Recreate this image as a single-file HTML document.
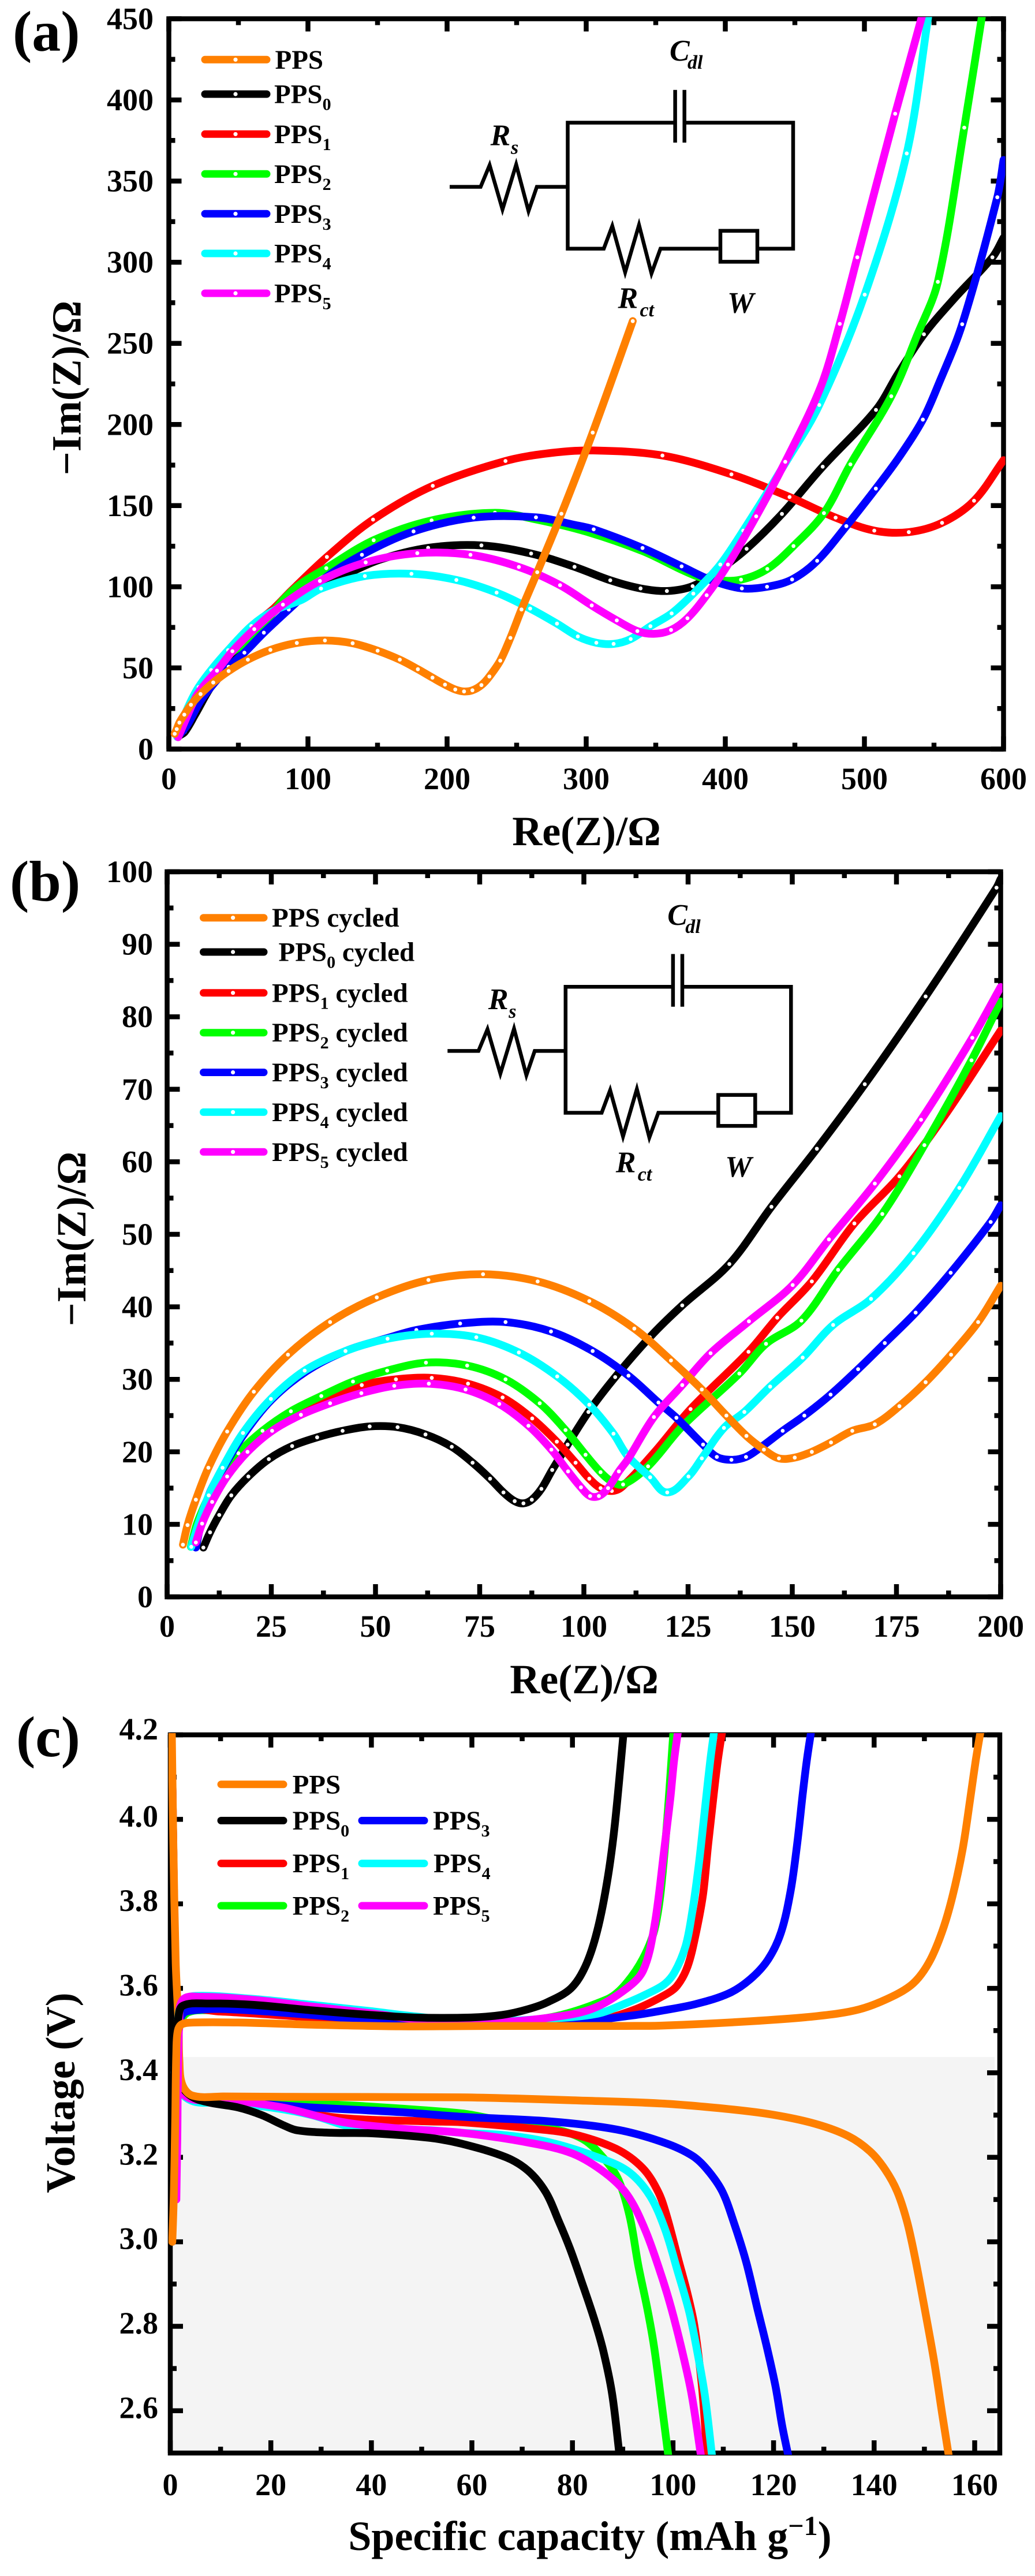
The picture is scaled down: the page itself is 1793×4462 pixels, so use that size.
<!DOCTYPE html>
<html lang="en">
<head>
<meta charset="utf-8">
<title>EIS and charge-discharge curves of PPS samples</title>
<style>
html,body{margin:0;padding:0;background:#fff;}
svg{display:block;}
text{font-family:"Liberation Serif","DejaVu Serif",serif;font-weight:bold;fill:#000;}
.it{font-style:italic;}
</style>
</head>
<body>
<svg id="figure" xmlns="http://www.w3.org/2000/svg" width="1793" height="4462" viewBox="0 0 1793 4462">
  <rect x="0" y="0" width="1793" height="4462" fill="#fff"/>
  <rect x="295" y="3563" width="1428" height="686" fill="#f4f4f4"/>

  <defs>
    <g id="circuit">
      <path fill="none" stroke="#000" stroke-width="6.5" stroke-linejoin="miter" d="M779 323.6H832.6L848.2 286L870.5 362.9L894.2 285L915.6 365.7L930 323.6H983.5"/>
      <path fill="none" stroke="#000" stroke-width="6.5" d="M1169.6 212.5H983.5V430.7H1046L1060.7 391.4L1083 471.8L1107 389.6L1128.6 473.6L1144.2 430.7H1244.6M1315 430.7H1374V212.5H1185.7"/>
      <path fill="none" stroke="#000" stroke-width="6.5" d="M1169.6 155.7V247M1185.7 155.7V247"/>
      <rect x="1248" y="399.8" width="64" height="53.6" fill="none" stroke="#000" stroke-width="6.5"/>
      <text class="it" x="1160" y="105" font-size="52">C</text>
      <text class="it" x="1191" y="119" font-size="34">dl</text>
      <text class="it" x="849.6" y="251.4" font-size="52">R</text>
      <text class="it" x="885" y="266.4" font-size="34">s</text>
      <text class="it" x="1070.5" y="533.6" font-size="52">R</text>
      <text class="it" x="1108.5" y="548" font-size="34">ct</text>
      <text class="it" x="1260" y="541.4" font-size="52">W</text>
    </g>
  </defs>

  <use href="#circuit"/>
  <use href="#circuit" transform="translate(-3.7 1496.8)"/>

  <text x="22" y="88" font-size="100">(a)</text>
  <text x="17" y="1560" font-size="100">(b)</text>
  <text x="28" y="3042" font-size="100">(c)</text>

  <text x="1016" y="1464" font-size="72" text-anchor="middle">Re(Z)/Ω</text>
  <text x="1012" y="2933" font-size="72" text-anchor="middle">Re(Z)/Ω</text>
  <text x="1022" y="4417" font-size="72" text-anchor="middle">Specific capacity (mAh g<tspan font-size="48" dy="-26">−1</tspan><tspan dy="26">)</tspan></text>

  <text transform="translate(139.5 672) rotate(-90)" font-size="72" text-anchor="middle">−Im(Z)/Ω</text>
  <text transform="translate(148 2146) rotate(-90)" font-size="72" text-anchor="middle">−Im(Z)/Ω</text>
  <text transform="translate(129 3625) rotate(-90)" font-size="72" text-anchor="middle">Voltage (V)</text>
</svg>

<script>
// ---------- Panel (a) : fresh cells, Nyquist data [Re, -Im] (third entry 0 = no marker) ----------
const aPPS = [[4.2,9.4],[5.7,12.3],[7.6,16.3],[11.1,21.2],[15.9,27.3],[22.8,33.9],[31.9,41],[43,48.1],[56.8,55.1],[73,61.1],[92,65.4],[112.2,66.9],[132.1,65.2],[150.1,60.6],[166,55.1],[179,49.2],[189.5,44],[198.5,39.7],[205.9,36.7],[212.2,35.5],[218.2,36.2],[224.7,39.4],[230.4,44.7],[238.2,54.5],[245.5,68.5],[253.5,86],[264.8,109],[282.2,145],[304.7,195],[333.5,263.7]];
const aPPS0 = [[7.6,8.3,0],[11.5,10.6],[19,21.4],[30,38,0],[43,52.5,0],[60,70,0],[80,88,0],[100,99,0],[120.5,105,0],[151,116.5,0],[186.4,124],[224.7,125.5],[260.4,120.5],[291.6,112.3],[317.3,104],[339.1,99],[358,97.4],[376.5,100.4],[395,110,0],[415.3,123.4],[440.7,144.9],[470,174],[508.3,209],[524,231,0],[542.8,255.6],[565,278,0],[592,303],[600,315,0]];
const aPPS1 = [[6.5,7.5,0],[12,20,0],[20,33,0],[30,46,0],[45,63,0],[60,76,0],[74.6,86,0],[88.5,98],[113.6,118.4],[146.8,141.4],[189.7,162.2],[242,177.5],[275,182.5,0],[305,184,0],[354.8,180.9],[404.4,169.3],[446.2,155.3],[479.3,142.6],[507.1,134.6],[531.9,133.7],[555.8,139.4],[578.8,153],[600,178,0]];
const aPPS2 = [[6.5,7.5,0],[14,25,0],[25,41,0],[40,56,0],[55.5,66,0],[70.7,79.5,0],[82.2,92,0],[95,102,0],[113.2,111.5],[147.2,128.7],[188.9,140.9],[234.4,145.6],[264,141.5,0],[300,134,0],[340.5,122,0],[368.6,110.5,0],[381.2,106,0],[393,104,0],[411.3,104.4],[430.2,111],[449,125.1],[470.9,145.4],[489.9,175.4],[519.3,217.4],[537.9,255,0],[552.8,287.9],[571.8,382.9],[586,460,0]];
const aPPS3 = [[6.7,7.7,0],[13.4,15,0],[23,30,0],[33,41,0],[43,50.7],[54.3,59.4],[68.3,71.7],[86.2,86],[110,104,0],[138.8,119.7],[175.9,134.1],[219.1,142.6],[263.9,142.8],[292.5,138,0],[305.4,135.4],[340.5,123.9],[368.6,112.6],[390,104,0],[411.9,99],[430,100],[448,104.5],[466,116],[487,137.4],[508.2,160.5],[525,180,0],[542,203],[552.9,224,0],[570.3,261.8],[595.5,340],[600,363,0]];
const aPPS4 = [[6,7.5,0],[10,18,0],[15.3,28.6],[21.4,38.2],[30.4,48.7],[42.6,60.9],[59.3,75.8],[74.6,85,0],[95.6,92,0],[109.4,98.9],[140.9,106.6],[174.4,108],[206.7,104.2],[235.6,96.4],[259.7,86.6],[279,77.3],[294,69.4],[307.3,65.5],[319.7,64.8],[332,67.8],[346.2,75.7],[361.4,83.6],[377,95.8],[396.4,113.7],[412.9,134.6],[443,176,0],[467.5,212],[500.2,280],[530.4,367],[546.5,455,0]];
const aPPS5 = [[6.7,7.3,0],[12,18,0],[20,33,0],[27,41,0],[34.6,48.3],[45.7,60.3],[61.4,73.9],[82,89],[108.6,103.6],[141.5,115],[178.6,120.7],[216.8,119.7],[251.6,112.2],[281.2,101],[304,88.5],[322,79.3],[336.8,72.7],[348.6,71,0],[361,73.4],[372.8,80.6],[386.6,94.8],[401.9,113.7],[422.2,143.4],[443.1,177],[468.5,223,0],[482.3,262],[494.9,303],[522.1,391.5],[542.5,455,0]];
const aXTicks = [0,100,200,300,400,500,600];
const aXMinorTicks = [50,150,250,350,450,550];
const aYTicks = [0,50,100,150,200,250,300,350,400,450];
const aYMinorTicks = [25,75,125,175,225,275,325,375,425];

// ---------- Panel (b) : cycled cells ----------
const bPPS = [[3.8,7.2],[4.9,9.9],[6.9,13.4],[9.9,17.8],[14.4,22.8],[20.8,28.3],[29,33.4],[39.1,37.9],[50.3,41.3],[62.7,43.7],[75.8,44.5],[88.9,43.5],[101.3,40.8],[112.1,37],[120.9,32.6],[128.3,28.6],[134.2,25],[139,22.2],[143.2,20.3],[146.8,19.1],[150.6,19.2],[154.7,20],[159.3,21.3],[164.4,22.9],[169.8,23.8],[175.7,26.3],[182,29.6],[188.1,33.4],[194.6,37.9],[200,42.9,0]];
const bPPS0 = [[8.7,6.8],[10.3,8.9],[12.5,11.3],[15.4,14],[19.5,16.6],[24.4,19],[30,20.8],[36,22],[42.1,22.9],[48.6,23.5],[55.3,23.4],[62,22.4],[68.3,20.7],[73.3,18.5],[77.5,16.3],[80.7,14.4],[83.4,13.2],[85.5,12.9],[87.5,13.4],[89.8,14.9],[92.4,17.5],[96.1,21],[101.1,25.5],[107.5,30.3],[115.8,35.8],[123.6,40.2],[134.9,45.9],[145,53.8],[155.9,61.8],[167.4,70.7],[182,82.8],[199,97.8],[200,99,0]];
const bPPS1 = [[6.7,7,0],[8,10.2,0],[10.5,13.5,0],[14,17,0],[19,20,0],[25,23,0],[32,25.7,0],[39,27.5,0],[46.7,29.2],[54.9,30],[63.5,30.2],[72.2,29.4],[80.5,27.5],[87.6,24.6],[93.5,21.4],[98,18.5],[101.3,16.3],[104,15],[106.7,14.6],[109.2,15.2],[117,20,0],[125.6,25.9],[139.5,33.8],[146.4,38.5],[154.7,43.5],[164.9,51.5],[175.7,58],[186.5,66.3,0],[200,78.1,0]];
const bPPS2 = [[5.7,6.9],[7,9.8,0],[8.5,12,0],[10,13.8,0],[12.5,16,0],[17.1,19.8],[22.9,22.9],[29.7,25.6],[37,27.7],[44.6,29.7],[52.8,31.2],[62.1,32.3],[72,31.9],[81.2,30],[89.4,26.7],[95.6,23],[100.4,19.6],[104,17.2],[106.7,15.9],[109.4,15.5],[115.4,18],[123.6,23.5],[137.3,30.8],[143.7,34.9],[152.2,38.1],[161,45.1],[171.6,52.8],[181.7,62.3],[193,74],[200,82.1,0]];
const bPPS3 = [[6.9,6.8,0],[8.3,10.5,0],[10.2,14.3,0],[13.5,17.8,0],[18.4,22.4,0],[25.1,27.2,0],[33.4,31.1,0],[42.8,33.9,0],[52.9,35.7,0],[59.8,36.8],[70.3,37.7],[81.2,37.9],[92.1,36.6],[102.1,33.9],[110.7,30.5],[117.9,26.8],[122.2,24.7],[128.6,21],[131.9,19.3],[135.4,18.9],[138.9,19.3],[142.4,20.6],[147.7,22.9],[152.9,25],[159.2,27.9],[165.8,31.4],[172.2,35],[179.6,39.2],[188,44.7],[197.6,51.7],[200,54,0]];
const bPPS4 = [[5.8,6.9],[7.5,10,0],[10,14],[13.3,17.8],[18.2,22.6],[24.9,27.3],[33,31.2],[42.8,33.9],[52.9,35.6],[63.5,36.3],[74.2,35.8],[84.4,33.7],[93.6,30.4],[101.3,26.5],[107.1,22.5],[110.4,19.5],[115.9,16.5],[120,14.4],[125.1,16.6],[128.3,19.1],[133.6,23.3],[138.5,25.5],[144.7,29],[152.5,33],[159.8,37.5],[168.9,41.1],[179.1,47.4],[190.1,56.4],[200,66.3,0]];
const bPPS5 = [[6.9,7.5],[8.4,10.1],[10.8,13.1],[14.4,16.6],[19.3,20],[25.2,22.9],[32.1,25.1],[39.1,26.7],[46.6,28.1],[54.5,29.1],[62.8,29.4],[71.6,28.6],[79.7,26.6],[86.7,23.6],[92.2,20.3],[96.2,17.3],[99.3,15.1],[101.5,13.9],[103.6,13.9],[105.8,15],[108.4,17.3],[110.7,19.1,0],[116.8,24.8],[123.6,29.2],[130.4,33.6],[139.6,38],[150.1,43],[158.8,49.3],[169.8,57],[180.9,65.8],[193.2,77.1],[200,84.1,0]];
const bXTicks = [0,25,50,75,100,125,150,175,200];
const bXMinorTicks = [12.5,37.5,62.5,87.5,112.5,137.5,162.5,187.5];
const bYTicks = [0,10,20,30,40,50,60,70,80,90,100];
const bYMinorTicks = [5,15,25,35,45,55,65,75,85,95];

// ---------- Panel (c) : charge / discharge curves [capacity, voltage] ----------
const cChargePPS = [[0.4,3],[0.7,3.11],[1,3.3],[1.2,3.45],[1.5,3.5],[2.3,3.515],[4.7,3.519],[13.5,3.519],[28.1,3.514],[45.7,3.51],[63.3,3.511],[90.7,3.511],[98.2,3.512],[115.4,3.522],[128.4,3.534],[137,3.55],[143.5,3.58],[147.8,3.612],[150.9,3.661],[153.5,3.733],[155.6,3.818],[157.6,3.929],[159.1,4.047],[160.2,4.1385],[161.2,4.21]];
const cChargePPS0 = [[0.5,3.3],[1,3.45],[1.6,3.53],[2.5,3.559],[7.6,3.564],[16.4,3.561],[28.1,3.548],[39.9,3.537],[48.6,3.531],[59.8,3.531],[66,3.537],[71,3.55],[75,3.567],[79.7,3.6],[82.6,3.653],[84.9,3.735],[86.9,3.853],[88.4,3.985],[90.2,4.21]];
const cChargePPS1 = [[1,3.4],[1.7,3.5],[3,3.545],[10,3.545],[30,3.53],[50,3.52],[70,3.515],[85,3.525],[92,3.548],[98.2,3.583],[100.8,3.606],[102.9,3.652],[104.6,3.733],[106,3.825],[107,3.942],[108.1,4.06],[108.9,4.1385],[109.8,4.21]];
const cChargePPS2 = [[1,3.4],[1.7,3.5],[2.7,3.535],[4.7,3.547],[9.4,3.547],[16.4,3.544],[28.1,3.532],[39.9,3.526],[45.7,3.521],[60,3.519],[75,3.53],[86.7,3.573],[90.2,3.605],[94,3.67],[96.5,3.748],[98.2,3.906],[100.1,4.21]];
const cChargePPS3 = [[0.9,3.4],[1.6,3.5],[2.5,3.539],[4.7,3.548],[10.6,3.551],[25,3.54],[40,3.525],[60,3.515],[80,3.52],[92,3.536],[98.2,3.548],[104.6,3.563],[111.1,3.588],[115.4,3.622],[118.9,3.668],[121.5,3.733],[123.4,3.831],[124.7,3.942],[125.8,4.06],[126.6,4.1385],[127.5,4.21]];
const cChargePPS4 = [[0.8,3.4],[1.5,3.52],[2.5,3.57],[5,3.582],[16.4,3.575],[28.1,3.561],[39.9,3.546],[47.5,3.535],[60,3.522],[75,3.528],[85,3.54],[90.7,3.565],[94.5,3.585],[98.2,3.609],[100.3,3.638],[102.5,3.7],[103.8,3.779],[105.1,3.89],[106.2,4.008],[107.4,4.1385],[108.2,4.21]];
const cChargePPS5 = [[1.2,3.1],[1.4,3.25],[1.5,3.37],[1.8,3.52],[2.5,3.573],[5.9,3.58],[16.4,3.573],[28.1,3.557],[39.9,3.541],[51.6,3.523],[63.3,3.519],[75,3.53],[83.8,3.551],[90.8,3.6],[94.1,3.643],[96.3,3.748],[98.2,3.923],[99.5,4.054],[100.2,4.1385],[101,4.21]];
const cDischargePPS = [[0.3,4.21],[0.6,3.95],[1.08,3.66],[1.66,3.51],[1.8,3.43],[2.36,3.373],[4.4,3.346],[10.6,3.344],[28.1,3.343],[57.4,3.342],[69.1,3.339],[80,3.335],[98.2,3.327],[111.1,3.314],[119.8,3.301],[128.4,3.279],[134.9,3.25],[139.2,3.214],[142.2,3.171],[144.6,3.119],[146.5,3.05],[148,2.971],[149.9,2.852],[151.9,2.72],[153.6,2.588],[154.9,2.49]];
const cDischargePPS0 = [[0.2,4.21],[0.4,3.9],[0.7,3.65],[1.1,3.45],[1.8,3.38],[4.1,3.345],[7.6,3.33],[13.5,3.318],[18.2,3.3],[22.3,3.277],[25.2,3.264],[32,3.258],[39.9,3.257],[51.6,3.246],[58,3.232],[66.8,3.2],[71.2,3.168],[74.7,3.117],[77.3,3.048],[79.5,2.984],[81.7,2.91],[84.3,2.818],[86.1,2.743],[87.9,2.639],[89.4,2.49]];
const cDischargePPS1 = [[0.4,4.1],[1,3.6],[1.6,3.42],[3,3.345],[10,3.335],[22,3.315],[34,3.293],[51.6,3.285],[58,3.283],[71.2,3.269],[80,3.255],[88.7,3.22],[94,3.174],[97.1,3.117],[98.8,3.059],[101,2.961],[102.8,2.881],[104.1,2.812],[105,2.737],[105.9,2.639],[106.8,2.49]];
const cDischargePPS2 = [[0.4,4.1],[1,3.6],[1.6,3.42],[3,3.345],[10,3.34],[22.3,3.331],[39.9,3.32],[58,3.304],[63.7,3.292],[75.6,3.269],[82.1,3.243],[86.5,3.194],[89.2,3.145],[91.4,3.059],[93.1,2.944],[94.9,2.841],[96.2,2.754],[97.5,2.639],[99.1,2.49]];
const cDischargePPS3 = [[0.4,4.1],[1,3.6],[1.6,3.42],[3,3.345],[10,3.335],[20,3.325],[28.1,3.318],[45.7,3.307],[58,3.296],[75.6,3.285],[88.7,3.266],[98.2,3.235],[103.8,3.204],[106.8,3.171],[109.8,3.119],[112.2,3.042],[114.6,2.95],[116.8,2.841],[118.6,2.754],[120.4,2.657],[121.7,2.565],[123,2.49]];
const cDischargePPS4 = [[0.5,3.9],[1,3.55],[2.07,3.359],[4.7,3.332],[10,3.33],[20,3.318],[28.1,3.3],[37,3.27],[51.6,3.264],[58,3.258],[66.8,3.252],[75.6,3.235],[84.3,3.203],[90.9,3.168],[95.3,3.111],[98.4,3.03],[101,2.927],[103.2,2.835],[104.6,2.754],[106.3,2.639],[107.8,2.49]];
const cDischargePPS5 = [[0.4,4.1],[1,3.6],[1.6,3.42],[3,3.345],[10.6,3.337],[22.3,3.318],[34,3.284],[45.7,3.268],[58,3.258],[71.2,3.235],[80,3.209],[86.5,3.163],[90.9,3.111],[94.4,3.03],[97.5,2.927],[99.7,2.841],[101.9,2.737],[103.7,2.639],[105.6,2.49]];
const cXTicks = [0,20,40,60,80,100,120,140,160];
const cXMinorTicks = [10,30,50,70,90,110,130,150];
const cYTickLabels = ['4.2','4.0','3.8','3.6','3.4','3.2','3.0','2.8','2.6'];
const cYMinorTicks = [4.1,3.9,3.7,3.5,3.3,3.1,2.9,2.7];

// ---------- Series metadata ----------
const seriesColors = {PPS:'#ff8000',PPS0:'#000000',PPS1:'#ff0000',PPS2:'#00ff00',PPS3:'#0000ff',PPS4:'#00ffff',PPS5:'#ff00ff'};
const seriesSubs = {PPS:'',PPS0:'0',PPS1:'1',PPS2:'2',PPS3:'3',PPS4:'4',PPS5:'5'};
const drawOrder = ['PPS0','PPS1','PPS2','PPS3','PPS4','PPS5','PPS'];
const drawOrderC = ['PPS2','PPS1','PPS3','PPS4','PPS5','PPS0','PPS'];
const legendKeys = ['PPS','PPS0','PPS1','PPS2','PPS3','PPS4','PPS5'];
const aData = {PPS:aPPS,PPS0:aPPS0,PPS1:aPPS1,PPS2:aPPS2,PPS3:aPPS3,PPS4:aPPS4,PPS5:aPPS5};
const bData = {PPS:bPPS,PPS0:bPPS0,PPS1:bPPS1,PPS2:bPPS2,PPS3:bPPS3,PPS4:bPPS4,PPS5:bPPS5};
const cCharge = {PPS:cChargePPS,PPS0:cChargePPS0,PPS1:cChargePPS1,PPS2:cChargePPS2,PPS3:cChargePPS3,PPS4:cChargePPS4,PPS5:cChargePPS5};
const cDischarge = {PPS:cDischargePPS,PPS0:cDischargePPS0,PPS1:cDischargePPS1,PPS2:cDischargePPS2,PPS3:cDischargePPS3,PPS4:cDischargePPS4,PPS5:cDischargePPS5};

const NS = 'http://www.w3.org/2000/svg';
const svg = document.getElementById('figure');

function mk(tag, attrs, parent) {
  const el = document.createElementNS(NS, tag);
  for (const k in attrs) el.setAttribute(k, attrs[k]);
  (parent || svg).appendChild(el);
  return el;
}

function scale(d0, d1, p0, p1) {
  return v => p0 + (v - d0) * (p1 - p0) / (d1 - d0);
}

function smoothPath(pts) {
  let d = 'M' + pts[0][0].toFixed(1) + ' ' + pts[0][1].toFixed(1);
  const tan = i => {
    const a = pts[Math.max(i - 1, 0)], b = pts[Math.min(i + 1, pts.length - 1)];
    const dx = b[0] - a[0], dy = b[1] - a[1], l = Math.hypot(dx, dy) || 1;
    return [dx / l, dy / l];
  };
  for (let i = 0; i < pts.length - 1; i++) {
    const p = pts[i], q = pts[i + 1], s = Math.hypot(q[0] - p[0], q[1] - p[1]) / 3;
    const t0 = tan(i), t1 = tan(i + 1);
    d += 'C' + (p[0] + t0[0] * s).toFixed(1) + ' ' + (p[1] + t0[1] * s).toFixed(1) + ' ' +
         (q[0] - t1[0] * s).toFixed(1) + ' ' + (q[1] - t1[1] * s).toFixed(1) + ' ' +
         q[0].toFixed(1) + ' ' + q[1].toFixed(1);
  }
  return d;
}

function drawFrame(id, box, X, Y, xMajor, xMinor, yMajor, yMinor) {
  const g = mk('g', {});
  
  
  let d = '';
  const seg = (x1, y1, x2, y2) => { d += 'M' + x1.toFixed(1) + ' ' + y1.toFixed(1) + 'L' + x2.toFixed(1) + ' ' + y2.toFixed(1); };
  const tickX = (list, len) => list.forEach(v => {
    const x = X(v);
    seg(x, box.b, x, box.b - len);
    seg(x, box.t, x, box.t + len);
  });
  const tickY = (list, len) => list.forEach(v => {
    const y = Y(v);
    seg(box.l, y, box.l + len, y);
    seg(box.r, y, box.r - len, y);
  });
  tickX(xMajor, 22);
  tickX(xMinor, 11);
  tickY(yMajor, 22);
  tickY(yMinor, 11);
  const ticks = mk('path', {d: d, stroke: '#000', 'stroke-width': 8.5, fill: 'none'}, g);
  
  
  const frame = mk('rect', {x: box.l, y: box.t, width: box.r - box.l, height: box.b - box.t, fill: 'none', stroke: '#000', 'stroke-width': 8.5}, g);
  
  
}

function clipFor(id, box) {
  const defs = mk('defs', {});
  const cp = mk('clipPath', {id: id + '-clip'}, defs);
  mk('rect', {x: box.l - 3, y: box.t - 3, width: box.r - box.l + 6, height: box.b - box.t + 6}, cp);
}

function drawLabels(id, X, Y, xVals, xLabels, xBase, yVals, yLabels, yRight, yOff, firstOff) {
  xVals.forEach((v, i) => {
    const t = mk('text', {x: X(v), y: xBase, 'font-size': 54, 'text-anchor': 'middle'});
    t.textContent = xLabels[i];
    
    
  });
  yVals.forEach((v, i) => {
    const off = (firstOff !== undefined && i === 0) ? firstOff : yOff;
    const t = mk('text', {x: yRight, y: Y(v) + off, 'font-size': 54, 'text-anchor': 'end'});
    t.textContent = yLabels[i];
    
    
  });
}

function drawSeries(id, part, key, pts, X, Y, dots) {
  const px = pts.map(p => [X(p[0]), Y(p[1])]);
  const g = mk('g', {'clip-path': 'url(#' + id + '-clip)'});
  
  
  const line = mk('path', {d: smoothPath(px), fill: 'none', stroke: seriesColors[key], 'stroke-width': 13.5, 'stroke-linecap': 'round', 'stroke-linejoin': 'round'}, g);
  
  
  if (dots) {
    pts.forEach((p, i) => {
      if (p[2] === 0) return;
      const c = mk('circle', {cx: px[i][0].toFixed(1), cy: px[i][1].toFixed(1), r: 3.4, fill: '#fff'}, g);
      
      
    });
  }
}

function legendEntry(id, key, suffix, x1, x2, y, tx, dotX) {
  const g = mk('g', {});
  
  
  const l = mk('line', {x1: x1 + 6, x2: x2 - 6, y1: y, y2: y, stroke: seriesColors[key], 'stroke-width': 13, 'stroke-linecap': 'round'}, g);
  
  
  if (dotX) {
    const c = mk('circle', {cx: dotX, cy: y, r: 3.6, fill: '#fff'}, g);
    
    
  }
  const t = mk('text', {x: tx, y: y + 15.5, 'font-size': 47}, g);
  
  
  const base = mk('tspan', {}, t);
  base.textContent = 'PPS';
  if (seriesSubs[key]) {
    const s = mk('tspan', {'font-size': 30, dy: 12}, t);
    s.textContent = seriesSubs[key];
  }
  if (suffix) {
    const r = mk('tspan', {dy: seriesSubs[key] ? -12 : 0}, t);
    r.textContent = suffix;
  }
}

// ---- Panel a ----
const boxA = {l: 292.5, r: 1738.5, t: 32.5, b: 1297.5};
const XA = scale(0, 600, boxA.l, boxA.r);
const YA = scale(0, 450, boxA.b, boxA.t);
clipFor('panel-a', boxA);
drawFrame('panel-a', boxA, XA, YA, aXTicks, aXMinorTicks, aYTicks, aYMinorTicks);
drawOrder.forEach(k => drawSeries('panel-a', '', k, aData[k], XA, YA, true));
drawLabels('panel-a', XA, YA, aXTicks, aXTicks.map(String), 1367, aYTicks, aYTicks.map(String), 266, 18);
const legendARows = [103.3,163,232.3,301.3,370.3,439,508];
legendKeys.forEach((k, i) => legendEntry('panel-a', k, '', 349, 468, legendARows[i], k === 'PPS' ? 476.5 : 475, 408));

// ---- Panel b ----
const boxB = {l: 289.5, r: 1733.5, t: 1510, b: 2766};
const XB = scale(0, 200, boxB.l, boxB.r);
const YB = scale(0, 100, boxB.b, boxB.t);
clipFor('panel-b', boxB);
drawFrame('panel-b', boxB, XB, YB, bXTicks, bXMinorTicks, bYTicks, bYMinorTicks);
drawOrder.forEach(k => drawSeries('panel-b', '', k, bData[k], XB, YB, true));
drawLabels('panel-b', XB, YB, bXTicks, bXTicks.map(String), 2835, bYTicks, bYTicks.map(String), 265, 18);
const legendBRows = [1589.7,1649,1719.8,1788.7,1857.5,1926.4,1995.3];
legendKeys.forEach((k, i) => legendEntry('panel-b', k, ' cycled', 346.5, 463, legendBRows[i], k === 'PPS0' ? 482.5 : 471, 403.6));

// ---- Panel c ----
const boxC = {l: 295, r: 1732, t: 3005, b: 4249};
const XC = scale(0, 165, boxC.l, boxC.r);
const YC = scale(2.5, 4.2, boxC.b, boxC.t);
clipFor('panel-c', boxC);
const cYMajor = cYTickLabels.map(Number);
drawFrame('panel-c', boxC, XC, YC, cXTicks, cXMinorTicks, cYMajor, cYMinorTicks);
drawOrderC.forEach(k => drawSeries('panel-c', '-discharge', k, cDischarge[k], XC, YC, false));
drawOrderC.forEach(k => drawSeries('panel-c', '-charge', k, cCharge[k], XC, YC, false));
drawLabels('panel-c', XC, YC, cXTicks, cXTicks.map(String), 4322, cYMajor, cYTickLabels, 274, 12.5, 8);
legendEntry('panel-c', 'PPS', '', 377, 497, 3090.8, 506.6);
legendEntry('panel-c', 'PPS0', '', 377, 497, 3153.5, 506.6);
legendEntry('panel-c', 'PPS1', '', 377, 497, 3227.7, 506.6);
legendEntry('panel-c', 'PPS2', '', 377, 497, 3301, 506.6);
legendEntry('panel-c', 'PPS3', '', 621, 741, 3153.5, 750);
legendEntry('panel-c', 'PPS4', '', 621, 741, 3227.7, 751);
legendEntry('panel-c', 'PPS5', '', 621, 741, 3301, 750);
</script>
</body>
</html>
